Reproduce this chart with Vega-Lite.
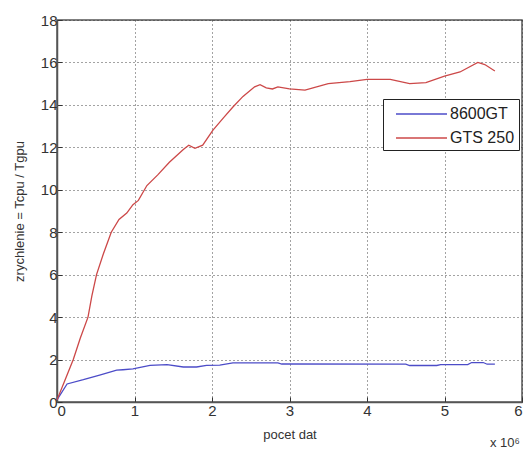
{
  "$schema": "https://vega.github.io/schema/vega-lite/v6.json",
  "width": 465,
  "height": 382,
  "autosize": {"type": "none"},
  "padding": {"left": 57, "top": 20, "right": 4, "bottom": 52},
  "background": "white",
  "config": {
    "font": "Liberation Sans",
    "view": {"stroke": "#555555", "strokeWidth": 1.5},
    "axis": {
      "labelFont": "Liberation Sans",
      "titleFont": "Liberation Sans",
      "labelColor": "#333333",
      "titleColor": "#333333",
      "labelFontSize": 15,
      "titleFontSize": 13,
      "titleFontWeight": "normal",
      "domainColor": "#555555",
      "domainWidth": 1.5,
      "tickColor": "#333333",
      "tickSize": -5,
      "gridColor": "#333333",
      "gridDash": [1, 3],
      "gridOpacity": 0.9,
      "gridWidth": 1
    }
  },
  "layer": [
    {
      "data": {
        "values": [
          {"n": 0, "s": 0.1, "gpu": "8600GT"},
          {"n": 0.13, "s": 0.85, "gpu": "8600GT"},
          {"n": 0.34, "s": 1.05, "gpu": "8600GT"},
          {"n": 0.55, "s": 1.27, "gpu": "8600GT"},
          {"n": 0.77, "s": 1.5, "gpu": "8600GT"},
          {"n": 0.85, "s": 1.52, "gpu": "8600GT"},
          {"n": 0.98, "s": 1.56, "gpu": "8600GT"},
          {"n": 1.2, "s": 1.73, "gpu": "8600GT"},
          {"n": 1.42, "s": 1.76, "gpu": "8600GT"},
          {"n": 1.63, "s": 1.65, "gpu": "8600GT"},
          {"n": 1.8, "s": 1.65, "gpu": "8600GT"},
          {"n": 1.93, "s": 1.73, "gpu": "8600GT"},
          {"n": 2.1, "s": 1.74, "gpu": "8600GT"},
          {"n": 2.27, "s": 1.84, "gpu": "8600GT"},
          {"n": 2.62, "s": 1.84, "gpu": "8600GT"},
          {"n": 2.85, "s": 1.84, "gpu": "8600GT"},
          {"n": 2.9, "s": 1.79, "gpu": "8600GT"},
          {"n": 4.5, "s": 1.78, "gpu": "8600GT"},
          {"n": 4.55, "s": 1.72, "gpu": "8600GT"},
          {"n": 4.9, "s": 1.72, "gpu": "8600GT"},
          {"n": 4.95, "s": 1.76, "gpu": "8600GT"},
          {"n": 5.3, "s": 1.76, "gpu": "8600GT"},
          {"n": 5.35, "s": 1.86, "gpu": "8600GT"},
          {"n": 5.5, "s": 1.86, "gpu": "8600GT"},
          {"n": 5.55, "s": 1.78, "gpu": "8600GT"},
          {"n": 5.65, "s": 1.78, "gpu": "8600GT"},
          {"n": 0, "s": 0.1, "gpu": "GTS 250"},
          {"n": 0.1, "s": 1.0, "gpu": "GTS 250"},
          {"n": 0.21, "s": 2.0, "gpu": "GTS 250"},
          {"n": 0.3, "s": 3.0, "gpu": "GTS 250"},
          {"n": 0.4, "s": 4.0, "gpu": "GTS 250"},
          {"n": 0.45, "s": 5.0, "gpu": "GTS 250"},
          {"n": 0.51, "s": 6.0, "gpu": "GTS 250"},
          {"n": 0.6, "s": 7.0, "gpu": "GTS 250"},
          {"n": 0.7, "s": 8.0, "gpu": "GTS 250"},
          {"n": 0.8, "s": 8.6, "gpu": "GTS 250"},
          {"n": 0.9, "s": 8.9, "gpu": "GTS 250"},
          {"n": 0.98, "s": 9.3, "gpu": "GTS 250"},
          {"n": 1.05, "s": 9.5, "gpu": "GTS 250"},
          {"n": 1.16, "s": 10.2, "gpu": "GTS 250"},
          {"n": 1.3, "s": 10.7, "gpu": "GTS 250"},
          {"n": 1.45, "s": 11.3, "gpu": "GTS 250"},
          {"n": 1.63, "s": 11.9, "gpu": "GTS 250"},
          {"n": 1.7, "s": 12.1, "gpu": "GTS 250"},
          {"n": 1.78, "s": 11.95, "gpu": "GTS 250"},
          {"n": 1.88, "s": 12.1, "gpu": "GTS 250"},
          {"n": 2.01, "s": 12.8, "gpu": "GTS 250"},
          {"n": 2.15, "s": 13.4, "gpu": "GTS 250"},
          {"n": 2.27, "s": 13.9, "gpu": "GTS 250"},
          {"n": 2.4, "s": 14.4, "gpu": "GTS 250"},
          {"n": 2.55, "s": 14.85, "gpu": "GTS 250"},
          {"n": 2.62, "s": 14.95, "gpu": "GTS 250"},
          {"n": 2.7, "s": 14.8, "gpu": "GTS 250"},
          {"n": 2.78, "s": 14.75, "gpu": "GTS 250"},
          {"n": 2.85, "s": 14.85, "gpu": "GTS 250"},
          {"n": 3.0, "s": 14.75, "gpu": "GTS 250"},
          {"n": 3.2, "s": 14.7, "gpu": "GTS 250"},
          {"n": 3.5, "s": 15.0, "gpu": "GTS 250"},
          {"n": 3.78, "s": 15.1, "gpu": "GTS 250"},
          {"n": 4.0, "s": 15.2, "gpu": "GTS 250"},
          {"n": 4.3, "s": 15.2, "gpu": "GTS 250"},
          {"n": 4.55, "s": 15.0, "gpu": "GTS 250"},
          {"n": 4.76, "s": 15.05, "gpu": "GTS 250"},
          {"n": 5.0, "s": 15.35, "gpu": "GTS 250"},
          {"n": 5.2, "s": 15.55, "gpu": "GTS 250"},
          {"n": 5.43, "s": 16.0, "gpu": "GTS 250"},
          {"n": 5.52, "s": 15.9, "gpu": "GTS 250"},
          {"n": 5.65, "s": 15.6, "gpu": "GTS 250"}
        ]
      },
      "mark": {"type": "line", "strokeWidth": 1.3},
      "encoding": {
        "x": {
          "field": "n", "type": "quantitative",
          "scale": {"domain": [0, 6], "nice": false},
          "axis": {"values": [0, 1, 2, 3, 4, 5, 6], "format": "d", "title": "pocet dat", "titlePadding": 10, "labelPadding": 6}
        },
        "y": {
          "field": "s", "type": "quantitative",
          "scale": {"domain": [0, 18], "nice": false},
          "axis": {"values": [0, 2, 4, 6, 8, 10, 12, 14, 16, 18], "title": "zrychlenie = Tcpu / Tgpu", "titlePadding": 14, "labelPadding": 5}
        },
        "color": {
          "field": "gpu", "type": "nominal",
          "scale": {"domain": ["8600GT", "GTS 250"], "range": ["#4c4cc8", "#cc4848"]},
          "legend": {
            "title": null,
            "orient": "none",
            "legendX": 326,
            "legendY": 79,
            "symbolType": "M-0.5,0H4.6",
            "symbolSize": 400,
            "symbolOffset": 3,
            "symbolStrokeWidth": 1.5,
            "labelOffset": 38,
            "labelFontSize": 16,
            "labelColor": "#222222",
            "strokeColor": "#222222",
            "fillColor": "white",
            "padding": 4,
            "rowPadding": 5
          }
        }
      }
    },
    {
      "data": {"values": [{"n": 5.78, "s": -1.95, "t": "x 10⁶"}]},
      "mark": {"type": "text", "fontSize": 13, "color": "#333333", "font": "Liberation Sans"},
      "encoding": {
        "x": {"field": "n", "type": "quantitative"},
        "y": {"field": "s", "type": "quantitative"},
        "text": {"field": "t"}
      }
    }
  ]
}
